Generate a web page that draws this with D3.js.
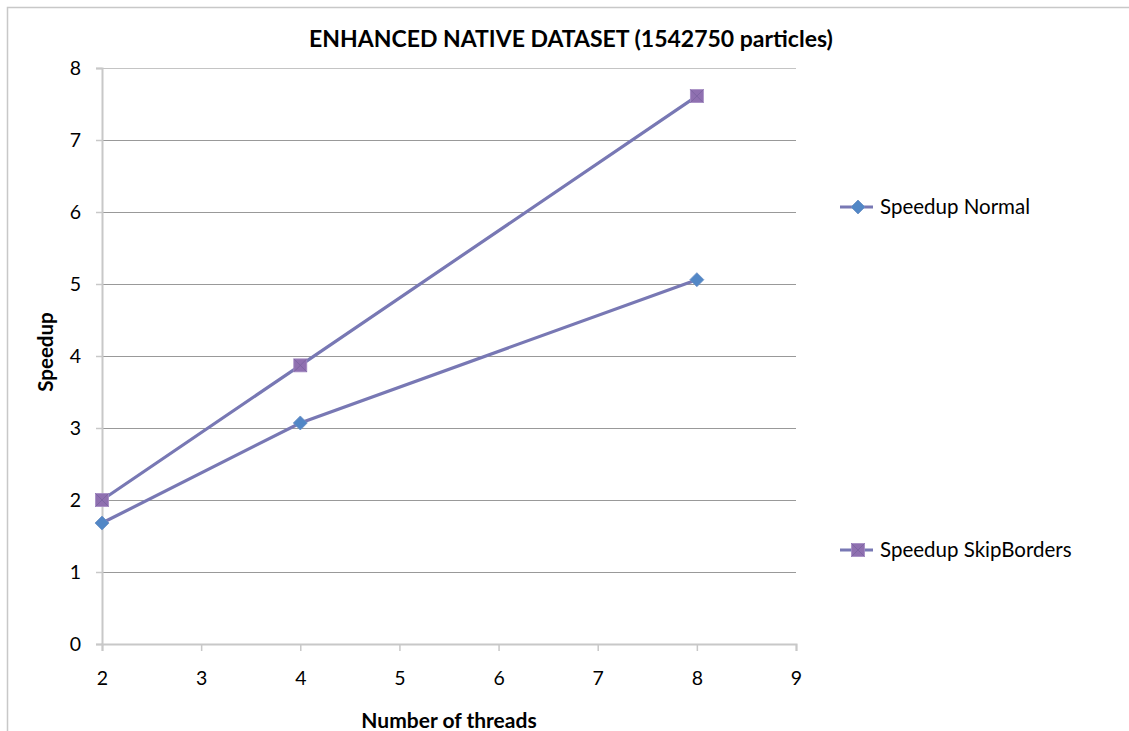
<!DOCTYPE html>
<html>
<head>
<meta charset="utf-8">
<script src="https://cdn.jsdelivr.net/npm/d3@7"></script>
<style>
  html, body { margin: 0; padding: 0; background: #fff; }
  svg { display: block; font-family: Lato, "Open Sans", sans-serif; }
</style>
</head>
<body>
<svg id="chart" width="1129" height="731"></svg>
<script>
// Thread counts and measured speedups
const threads = [2, 4, 8];
const speedupNormal = [1.68, 3.07, 5.06];
const speedupSkipBorders = [2.0, 3.87, 7.61];
const xTicks = [2, 3, 4, 5, 6, 7, 8, 9];
const yTicks = [0, 1, 2, 3, 4, 5, 6, 7, 8];
const seriesNames = ["Speedup Normal", "Speedup SkipBorders"];
const chartTitle = "ENHANCED NATIVE DATASET (1542750 particles)";

const svg = d3.select("#chart");
const plot = { left: 102, right: 796, top: 68, bottom: 644 };

const x = d3.scaleLinear().domain([2, 9]).range([plot.left, plot.right]);
const y = d3.scaleLinear().domain([0, 8]).range([plot.bottom, plot.top]);

// outer frame
svg.append("path")
  .attr("d", "M7.5,731 V7.5 H1129")
  .attr("fill", "none").attr("stroke", "#c8c8c8").attr("stroke-width", 1.5);

// horizontal gridlines
svg.append("g").selectAll("line")
  .data(yTicks.filter(d => d > 0))
  .join("line")
  .attr("x1", plot.left).attr("x2", plot.right)
  .attr("y1", d => Math.round(y(d)) + 0.5).attr("y2", d => Math.round(y(d)) + 0.5)
  .attr("stroke", d => d === 8 ? "#c4c4c4" : "#999").attr("stroke-width", 1);

// y axis
const yAxis = svg.append("g")
  .attr("transform", `translate(${plot.left},0)`)
  .call(d3.axisLeft(y).tickValues(yTicks).tickSize(6).tickPadding(15).tickFormat(d3.format("d")));
yAxis.select(".domain").attr("stroke", "#c8c8c8").attr("stroke-width", 2);
yAxis.selectAll(".tick line").attr("stroke", "#c8c8c8").attr("stroke-width", 1.5);
yAxis.selectAll(".tick text").attr("font-size", 19.5).attr("fill", "#000")
  .attr("font-family", "Lato, sans-serif");

// x axis
const xAxis = svg.append("g")
  .attr("transform", `translate(0,${plot.bottom})`)
  .call(d3.axisBottom(x).tickValues(xTicks).tickSize(7).tickPadding(20).tickFormat(d3.format("d")));
xAxis.select(".domain").attr("stroke", "#c8c8c8").attr("stroke-width", 2);
xAxis.selectAll(".tick line").attr("stroke", "#c8c8c8").attr("stroke-width", 1.5);
xAxis.selectAll(".tick text").attr("font-size", 19.5).attr("fill", "#000")
  .attr("font-family", "Lato, sans-serif");

// title and axis titles
svg.append("text")
  .attr("x", 571).attr("y", 47).attr("text-anchor", "middle")
  .attr("font-size", 23).attr("font-weight", "bold").text(chartTitle);
svg.append("text")
  .attr("x", (plot.left + plot.right) / 2).attr("y", 728).attr("text-anchor", "middle")
  .attr("font-size", 21).attr("font-weight", "bold").text("Number of threads");
svg.append("text")
  .attr("transform", "translate(53,352) rotate(-90)").attr("text-anchor", "middle")
  .attr("font-size", 20.5).attr("font-weight", "bold").text("Speedup");

const lineColor = "#7878b4";
const line = d3.line().x(d => x(d[0])).y(d => y(d[1]));

const series = [
  { name: seriesNames[0], values: speedupNormal, marker: "diamond" },
  { name: seriesNames[1], values: speedupSkipBorders, marker: "square" }
];

function drawMarker(g, type, cx, cy) {
  if (type === "diamond") {
    g.append("path")
      .attr("d", `M${cx},${cy - 7} L${cx + 7},${cy} L${cx},${cy + 7} L${cx - 7},${cy} Z`)
      .attr("fill", "#5287c6").attr("stroke", "#6b8fc4").attr("stroke-width", 0.8);
  } else {
    const s = 6.5;
    g.append("rect")
      .attr("x", cx - s).attr("y", cy - s).attr("width", 2 * s).attr("height", 2 * s)
      .attr("fill", "#8f70b0").attr("stroke", "#a58cc4").attr("stroke-width", 0.8);
    g.append("path")
      .attr("d", `M${cx - s},${cy - s} L${cx + s},${cy + s} M${cx + s},${cy - s} L${cx - s},${cy + s}`)
      .attr("stroke", "#7a62a0").attr("stroke-width", 0.8);
  }
}

series.forEach(s => {
  const pts = threads.map((t, i) => [t, s.values[i]]);
  svg.append("path").datum(pts)
    .attr("d", line).attr("fill", "none")
    .attr("stroke", lineColor).attr("stroke-width", 3.2);
  const mg = svg.append("g");
  pts.forEach(p => drawMarker(mg, s.marker, x(p[0]), y(p[1])));
});

// legend
const legendY = [207, 550];
series.forEach((s, i) => {
  const g = svg.append("g");
  g.append("line")
    .attr("x1", 840).attr("x2", 873).attr("y1", legendY[i]).attr("y2", legendY[i])
    .attr("stroke", lineColor).attr("stroke-width", 3.2);
  drawMarker(g, s.marker, 858, legendY[i]);
  g.append("text")
    .attr("x", 880).attr("y", legendY[i] + 7)
    .attr("font-size", 20.5).attr("fill", "#000").text(s.name);
});
</script>
</body>
</html>
